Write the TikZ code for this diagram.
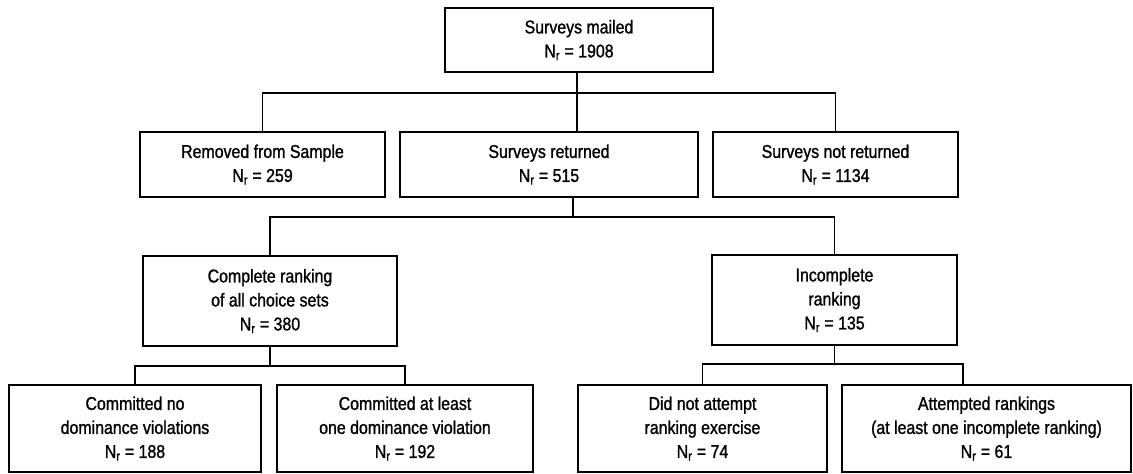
\documentclass[tikz,border=0pt]{standalone}
\usepackage{fontspec}
\setmainfont[FakeStretch=0.86,FakeBold=1.2]{Liberation Sans}
\begin{document}
\begin{tikzpicture}[x=1pt,y=-1pt,
  box/.style={draw,line width=1.7pt,rectangle,inner sep=0pt,align=center,
    font=\fontsize{18.5}{24}\selectfont},
  conn/.style={line width=1.7pt}]
\useasboundingbox (0,0) rectangle (1133,474);
\newcommand{\Nr}{N\textsubscript{r}}
\node[box,minimum width=268pt,minimum height=64pt] (mail) at (579,40) {Surveys mailed\\\Nr{} = 1908};
\node[box,minimum width=245pt,minimum height=65pt] (rem) at (262.5,164.5) {Removed from Sample\\\Nr{} = 259};
\node[box,minimum width=298pt,minimum height=65pt] (ret) at (549,164.5) {Surveys returned\\\Nr{} = 515};
\node[box,minimum width=245pt,minimum height=65pt] (not) at (835.5,164.5) {Surveys not returned\\\Nr{} = 1134};
\node[box,minimum width=254pt,minimum height=90pt] (comp) at (270,301) {Complete ranking\\of all choice sets\\\Nr{} = 380};
\node[box,minimum width=245pt,minimum height=90pt] (inc) at (834.5,300) {Incomplete\\ranking\\\Nr{} = 135};
\node[box,minimum width=252pt,minimum height=87pt] (c1) at (135,428.5) {Committed no\\dominance violations\\\Nr{} = 188};
\node[box,minimum width=256pt,minimum height=87pt] (c2) at (405,428.5) {Committed at least\\one dominance violation\\\Nr{} = 192};
\node[box,minimum width=249pt,minimum height=87pt] (i1) at (702.5,428.5) {Did not attempt\\ranking exercise\\\Nr{} = 74};
\node[box,minimum width=289pt,minimum height=87pt] (i2) at (986.5,428.5) {Attempted rankings\\(at least one incomplete ranking)\\\Nr{} = 61};
\coordinate (bus1) at (577,93);
\coordinate (bus2) at (573,217);
\coordinate (bus3) at (270,366);
\coordinate (bus4) at (834.5,364);
\coordinate (k) at (963,0);
\draw[conn] (mail.south -| bus1) -- (bus1) -- (ret.north -| bus1);
\draw[conn] (rem.north) |- (bus1) -| (not.north);
\draw[conn] (ret.south -| bus2) -- (bus2);
\draw[conn] (comp.north) |- (bus2) -| (inc.north);
\draw[conn] (comp.south) -- (bus3);
\draw[conn] (c1.north) |- (bus3) -| (c2.north);
\draw[conn] (inc.south) -- (bus4);
\draw[conn] (i1.north) |- (bus4) -| (i2.north -| k);
\end{tikzpicture}
\end{document}
